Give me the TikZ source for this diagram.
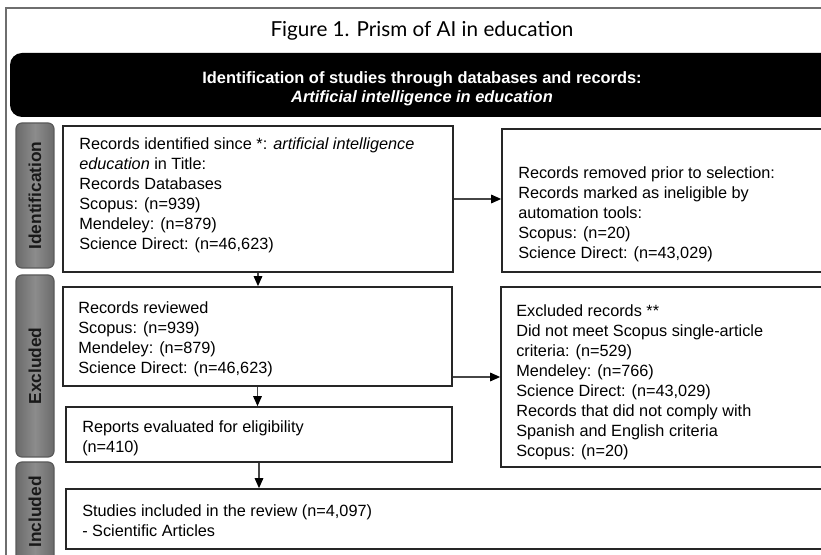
\documentclass[tikz,border=0pt]{standalone}
\usepackage{fontspec}
\setmainfont{Liberation Sans}
\newfontfamily\titlefont{Lato}
\usepackage{tikz}
\usetikzlibrary{positioning, arrows.meta, calc, fit}
\definecolor{frameG}{RGB}{110, 110, 110}
\definecolor{tabG}{RGB}{140, 140, 140}
\definecolor{tabD}{RGB}{90, 90, 90}
\definecolor{tabT}{RGB}{25, 25, 25}
\definecolor{arrG}{RGB}{70, 70, 70}
\tikzset{
  outer/.style={draw=frameG, line width=0.8pt},
  banner/.style={fill=black, rounded corners=9pt},
  tab/.style={draw=tabD, line width=0.9pt, rounded corners=4.5pt, inner sep=0pt,
              left color=tabD!90, right color=tabD!90, middle color=tabG},
  tablbl/.style={rotate=90, text=tabT, font=\fontsize{13}{15}\selectfont\bfseries},
  rec/.style={draw=black!85, line width=1.3pt, inner sep=0pt},
  txt/.style={anchor=north west, align=left, inner sep=0pt,
              font=\fontsize{12.2}{15}\selectfont},
  arr/.style={-{Triangle[length=7.5pt, width=6.5pt, color=black]}, draw=arrG, line width=0.8pt},
}
\begin{document}
\begin{tikzpicture}[x=0.75pt, y=-0.75pt]
  \useasboundingbox (0,0) rectangle (821,555);
  \clip (0,0) rectangle (821,555);
  % frame and heading
  \draw[outer] (6,600) -- (6,8) -- (900,8);
  \node[font=\titlefont\fontsize{15.5}{18}\selectfont] (title) at (422,31)
    {Figure 1. Prism of AI in education};
  \fill[banner] (10,53) rectangle (900,117);
  \node[text=white, align=center, font=\fontsize{12.3}{14.3}\selectfont\bfseries] (head) at (422,89)
    {Identification of studies through databases and records:\\ \itshape Artificial intelligence in education};
  % phase tabs
  \node[tab, fit={(16,123) (54,268)}] (tabid) {};
  \node[tablbl] (lblid) at (tabid) {Identification};
  \node[tab, fit={(16,275) (54,457)}] (tabex) {};
  \node[tablbl] (lblex) at (tabex) {Excluded};
  \node[tab, fit={(16,462) (54,590)}] (tabin) {};
  \node[tablbl] (lblin) at (35,512) {Included};
  % boxes
  \node[rec, fit={(63,126) (453,272)}] (id) {};
  \node[txt] (idtxt) at (79,137)
    {Records identified since *: \textit{artificial intelligence}\\
     \textit{education} in Title:\\ Records Databases\\ Scopus: (n=939)\\
     Mendeley: (n=879)\\ Science Direct: (n=46,623)};
  \node[rec, fit={(502,129) (900,272)}] (rem) {};
  \node[txt] (remtxt) at (518,166)
    {Records removed prior to selection:\\ Records marked as ineligible by\\
     automation tools:\\ Scopus: (n=20)\\ Science Direct: (n=43,029)};
  \node[rec, fit={(63,287) (452,386)}] (rev) {};
  \node[txt] (revtxt) at (78,301)
    {Records reviewed\\ Scopus: (n=939)\\ Mendeley: (n=879)\\ Science Direct: (n=46,623)};
  \node[rec, fit={(501,287) (900,467)}] (excl) {};
  \node[txt] (excltxt) at (516,304)
    {Excluded records **\\ Did not meet Scopus single-article\\ criteria: (n=529)\\
     Mendeley: (n=766)\\ Science Direct: (n=43,029)\\ Records that did not comply with\\
     Spanish and English criteria\\ Scopus: (n=20)};
  \node[rec, fit={(66,407) (452,462)}] (elig) {};
  \node[txt] (eligtxt) at (82,420)
    {Reports evaluated for eligibility\\ (n=410)};
  \node[rec, fit={(66,489) (900,549)}] (incl) {};
  \node[txt] (incltxt) at (82,504)
    {Studies included in the review (n=4,097)\\ - Scientific Articles};
  % arrows
  \draw[arr] (id.east) -- (id.east -| rem.west);
  \draw[arr] (id.south) -- (id.south |- rev.north);
  \draw[arr] (excl.west -| rev.east) -- (excl.west);
  \draw[arr] (rev.south) -- (rev.south |- elig.north);
  \draw[arr] (elig.south) -- (elig.south |- incl.north);
\end{tikzpicture}
\end{document}
